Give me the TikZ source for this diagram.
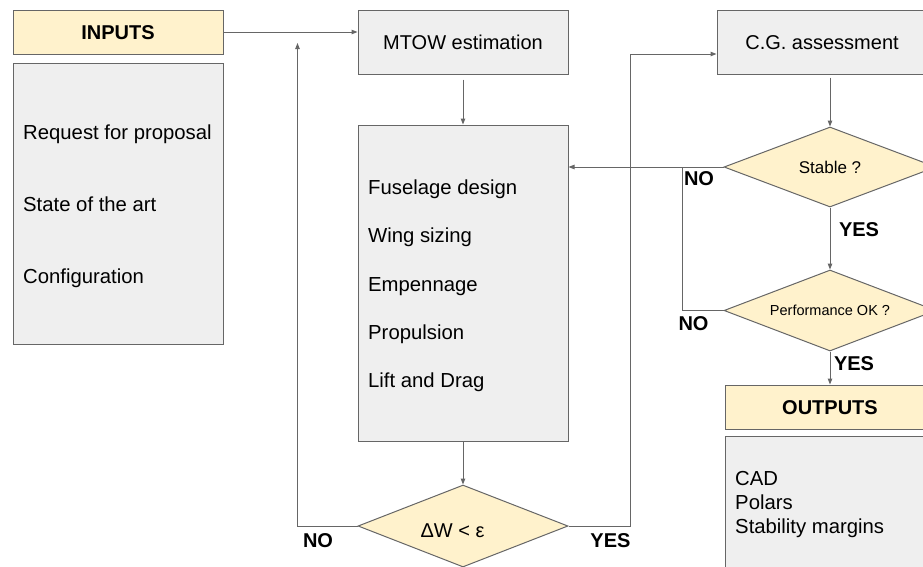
\documentclass[tikz,border=0pt]{standalone}
\usepackage{fontspec}
\setmainfont{Liberation Sans}
\usetikzlibrary{arrows.meta,shapes.geometric}
\definecolor{boxgray}{HTML}{EFEFEF}
\definecolor{boxyellow}{HTML}{FFF2CC}
\definecolor{edgegray}{HTML}{666666}
\begin{document}
\begin{tikzpicture}[x=1pt,y=-1pt,
  gbox/.style={draw=edgegray, line width=1pt, fill=boxgray, inner sep=0pt, minimum width=210pt},
  ybox/.style={draw=edgegray, line width=1pt, fill=boxyellow, inner sep=0pt, minimum width=210pt, minimum height=44pt,
     font=\fontsize{20}{24}\selectfont\bfseries, text height=14.3pt, text depth=0pt},
  dec/.style={shape=diamond, shape aspect=2.62, draw=edgegray, line width=1pt, fill=boxyellow, inner sep=0pt,
     minimum width=212pt, minimum height=81pt},
  txt/.style={inner sep=0pt, anchor=west, font=\fontsize{20.3}{24}\selectfont, text height=14.3pt, text depth=0pt},
  lbl/.style={inner sep=0pt, font=\fontsize{20}{24}\selectfont\bfseries, text height=14.3pt, text depth=0pt},
  conn/.style={draw=edgegray, line width=1pt},
  arr/.style={conn, -{Triangle[length=6pt,width=4.5pt]}}
]
\useasboundingbox (0,0) rectangle (923,566);
\clip (0,0) rectangle (923,566);

% left column
\node[ybox] (inputs) at (118,32) {INPUTS};
\node[gbox, minimum height=281pt] (inlist) at (118,203.5) {};
\node[txt] (in1) at (23,132.5) {Request for proposal};
\node[txt] (in2) at (23,204.5) {State of the art};
\node[txt] (in3) at (23,276) {Configuration};

% middle column
\node[gbox, minimum height=64pt, font=\fontsize{20}{24}\selectfont, text height=14.3pt, text depth=0pt] (mtow) at (463,42) {MTOW estimation};
\node[gbox, minimum height=316pt] (fus) at (463,283) {};
\node[txt] (f1) at (368,187) {Fuselage design};
\node[txt] (f2) at (368,235) {Wing sizing};
\node[txt] (f3) at (368,284) {Empennage};
\node[txt] (f4) at (368,332) {Propulsion};
\node[txt] (f5) at (368,380.5) {Lift and Drag};
\node[dec, minimum width=210pt, minimum height=82pt] (dw) at (463,526) {};
\node[inner sep=0pt, font=\fontsize{20}{24}\selectfont, text height=14.3pt, text depth=0pt] (dwt) at (452.5,530) {ΔW < ε};

% right column
\node[gbox, minimum height=64pt, font=\fontsize{20}{24}\selectfont, text height=14.3pt, text depth=0pt] (cg) at (822,42) {C.G. assessment};
\node[dec, minimum height=80pt, font=\fontsize{17}{20}\selectfont] (stable) at (830,167) {Stable ?};
\node[dec, font=\fontsize{14.5}{17}\selectfont] (perf) at (830,310.5) {Performance OK ?};
\node[ybox] (outputs) at (830,407) {OUTPUTS};
\node[gbox, minimum height=184pt] (outlist) at (830,528) {};
\node[txt] (o1) at (735,478.5) {CAD};
\node[txt] (o2) at (735,502) {Polars};
\node[txt] (o3) at (735,526) {Stability margins};

% helper coordinates
\coordinate (upno) at (297.5,43);
\coordinate (yesx) at (630,0);
\coordinate (nox) at (682,0);

% connectors
\draw[arr] (inputs.east) -- (inputs.east -| mtow.west);
\draw[arr] ([yshift=-5pt]mtow.south) -- (fus.north);
\draw[arr] (fus.south) -- (dw.north);
\draw[arr] (dw.west) -- (dw.west -| upno) -- (upno);
\draw[arr] (dw.east) -- (dw.east -| yesx) |- ([yshift=-12pt]cg.west);
\draw[arr] ([yshift=-3pt]stable.north |- cg.south) -- (stable.north);
\draw[arr] (stable.west) -- (stable.west -| fus.east);
\draw[conn] (perf.west) -- (perf.west -| nox) -- (nox |- stable.west);
\draw[arr] (stable.south) -- (perf.north);
\draw[arr] (perf.south) -- (outputs.north);

% labels
\node[lbl] (no1) at (699,178) {NO};
\node[lbl] (no2) at (693.5,323.5) {NO};
\node[lbl] (no3) at (318,540) {NO};
\node[lbl] (yes1) at (859,229.5) {YES};
\node[lbl] (yes2) at (854,363) {YES};
\node[lbl] (yes3) at (610.5,540) {YES};
\end{tikzpicture}
\end{document}
